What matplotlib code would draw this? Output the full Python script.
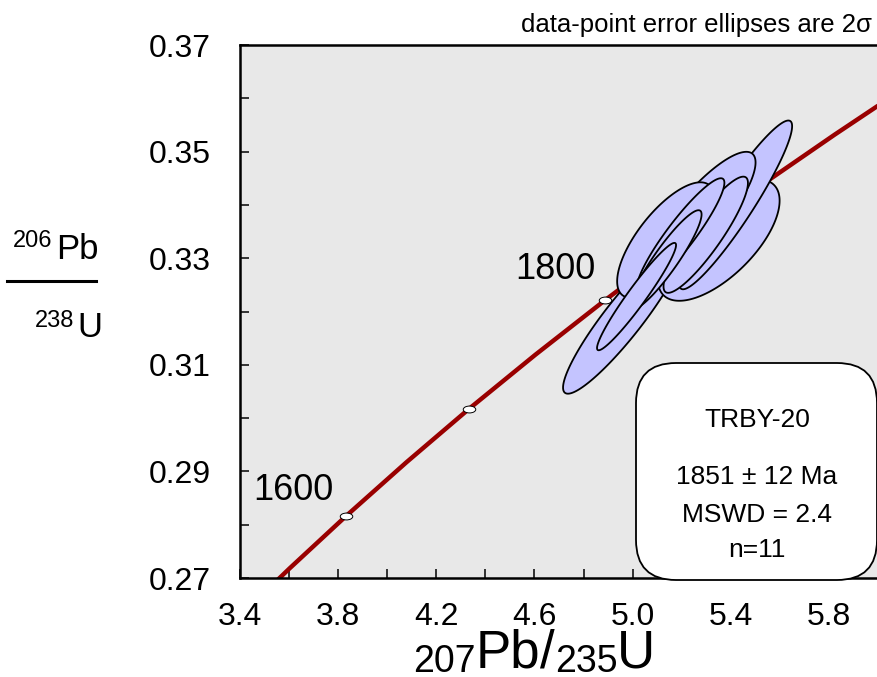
import numpy as np
import matplotlib
matplotlib.use("Agg")
import matplotlib.pyplot as plt
from matplotlib.patches import Polygon, FancyBboxPatch
from matplotlib.path import Path
from matplotlib.transforms import IdentityTransform, Affine2D
from matplotlib.lines import Line2D

plt.rcParams['font.family'] = ['Liberation Sans', 'DejaVu Sans']

# ---- data ----
conc_age = [1500, 1550, 1600, 1650, 1700, 1750, 1800, 1850, 1900, 1950, 2000]
conc_x = [3.381, 3.602, 3.834, 4.078, 4.335, 4.604, 4.887, 5.184, 5.496, 5.824, 6.169]
conc_y = [0.2620, 0.2718, 0.2817, 0.2917, 0.3018, 0.3119, 0.3221, 0.3324, 0.3428, 0.3532, 0.3638]
marker_ages = [1600, 1700, 1800, 1900]
label_ages = ["1600", "1800"]
label_x = [3.616, 4.686]
label_y = [0.2865, 0.3278]

ell_x = [4.963, 5.351, 5.420, 5.278, 5.135, 5.298, 5.196, 5.135, 5.016]
ell_sx = [0.2465, 0.248, 0.230, 0.223, 0.198, 0.172, 0.178, 0.146, 0.161]
ell_y = [0.3188, 0.3334, 0.3400, 0.3381, 0.3334, 0.3344, 0.3344, 0.3297, 0.3228]
ell_sy = [0.01422, 0.01139, 0.01583, 0.01186, 0.01084, 0.0109, 0.0106, 0.0093, 0.01007]
ell_rho = [0.919, 0.649, 0.933, 0.831, 0.714, 0.890, 0.919, 0.915, 0.958]

x_major = [3.4, 3.8, 4.2, 4.6, 5.0, 5.4, 5.8]
y_major = [0.27, 0.29, 0.31, 0.33, 0.35, 0.37]

sample = "TRBY-20"
age_text = "1851 ± 12 Ma"
mswd_text = "MSWD = 2.4"
n_text = "n=11"
note = "data-point error ellipses are 2σ"

W, H = 878, 677
fig = plt.figure(figsize=(W / 100, H / 100), dpi=100)
ax = fig.add_axes([240 / W, 1 - 578 / H, 1 - 240 / W, (578 - 45) / H])
ax.set_facecolor('#e8e8e8')
ax.set_xlim(3.4, 6.0)
ax.set_ylim(0.27, 0.37)

# concordia
ax.plot(conc_x, conc_y, color='#990000', lw=3.2, zorder=2, solid_capstyle='butt')
ell_marker = Path.unit_circle().transformed(Affine2D().scale(1.0, 0.55))
for a in marker_ages:
    i = conc_age.index(a)
    ax.plot(conc_x[i], conc_y[i], marker=ell_marker, ms=9, mfc='white', mec='black',
            mew=0.7, zorder=3, ls='none')
for t, lx, ly in zip(label_ages, label_x, label_y):
    ax.text(lx, ly, t, fontsize=26, ha='center', va='center', zorder=3)

# error ellipses
tt = np.linspace(0, 2 * np.pi, 240)
for x, sx, y, sy, r in zip(ell_x, ell_sx, ell_y, ell_sy, ell_rho):
    px = x + sx * np.cos(tt)
    py = y + sy * (r * np.cos(tt) + np.sqrt(1 - r * r) * np.sin(tt))
    ax.add_patch(Polygon(np.column_stack([px, py]), closed=True, facecolor='#c4c4ff',
                         edgecolor='black', lw=1.3, zorder=4))

# ticks
ax.set_xticks(x_major)
ax.set_xticklabels([f"{v:.1f}" for v in x_major])
ax.set_xticks(np.arange(3.4, 6.0, 0.2), minor=True)
ax.set_yticks(y_major)
ax.set_yticklabels([f"{v:.2f}" for v in y_major])
ax.set_yticks(np.arange(0.27, 0.3701, 0.01), minor=True)
ax.tick_params(which='both', direction='in', length=6.5, width=1.1, top=False, right=False)
ax.tick_params(axis='x', which='major', labelsize=23, pad=17)
ax.tick_params(axis='y', which='major', labelsize=23, pad=21)
for s in ax.spines.values():
    s.set_linewidth(1.8)

# result box (pixel coordinates)
box = FancyBboxPatch((636, H - 580), 877 - 636, 580 - 363,
                     boxstyle="round,pad=0,rounding_size=40",
                     transform=IdentityTransform(), facecolor='white', edgecolor='black',
                     lw=1.3, zorder=6, clip_on=False)
ax.add_patch(box)
for txt, yy in zip([sample, age_text, mswd_text, n_text], [420, 477, 515, 550]):
    fig.text(757 / W, 1 - yy / H, txt, fontsize=19, ha='center', va='center', zorder=7)

# top note
fig.text(872 / W, 1 - 25 / H, note, fontsize=18.5, ha='right', va='center')

# y label as fraction
fig.text(13 / W, 1 - 247 / H, "206", fontsize=17, ha='left', va='baseline')
fig.text(56 / W, 1 - 259 / H, "Pb", fontsize=25, ha='left', va='baseline')
fig.add_artist(Line2D([7 / W, 96 / W], [1 - 281 / H, 1 - 281 / H], color='black', lw=2.2))
fig.text(35 / W, 1 - 327 / H, "238", fontsize=17, ha='left', va='baseline')
fig.text(77 / W, 1 - 337 / H, "U", fontsize=25, ha='left', va='baseline')

# x label built from pieces
renderer = fig.canvas.get_renderer()
pieces = [("207", 27, 672), ("Pb", 38, 667), ("/", 38, 667), ("235", 27, 672), ("U", 38, 667)]
xpos = 413
for txt, fs, base in pieces:
    t = fig.text(xpos / W, 1 - base / H, txt, fontsize=fs, ha='left', va='baseline')
    bb = t.get_window_extent(renderer)
    xpos += bb.width

fig.savefig("out.png", dpi=100)
